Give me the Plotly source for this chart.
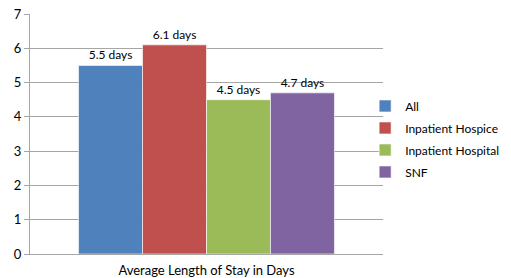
import plotly.graph_objects as go

categories = ["Average Length of Stay in Days"]
series_names = ["All", "Inpatient Hospice", "Inpatient Hospital", "SNF"]
series_values = [5.5, 6.1, 4.5, 4.7]
series_labels = ["5.5 days", "6.1 days", "4.5 days", "4.7 days"]
series_colors = ["#4F81BD", "#C0504D", "#9BBB59", "#8064A2"]
y_ticks = [0, 1, 2, 3, 4, 5, 6, 7]

FONT = "Lato, 'Open Sans', sans-serif"

fig = go.Figure()
for name, val, lab, col in zip(series_names, series_values, series_labels, series_colors):
    fig.add_trace(go.Bar(
        x=categories, y=[val], name=name, legendgroup=name,
        marker=dict(color=col, line=dict(color="rgba(255,255,255,0.6)", width=1)),
        text=[lab], textposition="outside", cliponaxis=False,
        textfont=dict(family=FONT, size=12, color="#000000"),
    ))

# page body has an 8px margin, so the figure is sized to the visible 503x270 area
fig.update_layout(
    width=503, height=270,
    margin=dict(l=22, r=128, t=6, b=24, autoexpand=False),
    paper_bgcolor="white", plot_bgcolor="white",
    barmode="group", bargap=0.275, bargroupgap=0,
    font=dict(family=FONT, size=13, color="#000000"),
    showlegend=True,
    legend=dict(xref="container", yref="container", x=0.71, y=0.515,
                xanchor="left", yanchor="middle", tracegroupgap=3,
                font=dict(family=FONT, size=12, color="#000000"),
                bgcolor="rgba(0,0,0,0)", itemwidth=30),
)
fig.update_yaxes(range=[0, 7], tickvals=y_ticks, showgrid=True, gridcolor="#A6A6A6",
                 gridwidth=1, ticks="outside", ticklen=5, tickcolor="#A6A6A6",
                 showline=True, linecolor="#A6A6A6", linewidth=1, zeroline=False,
                 automargin=False, ticklabeloverflow="allow",
                 tickfont=dict(family=FONT, size=13, color="#000000"))
fig.update_xaxes(showline=True, linecolor="#A6A6A6", linewidth=1, ticks="",
                 showticklabels=False, automargin=False,
                 title=dict(text=categories[0], standoff=11,
                            font=dict(family=FONT, size=13, color="#000000")))

fig.write_html("out.html")
